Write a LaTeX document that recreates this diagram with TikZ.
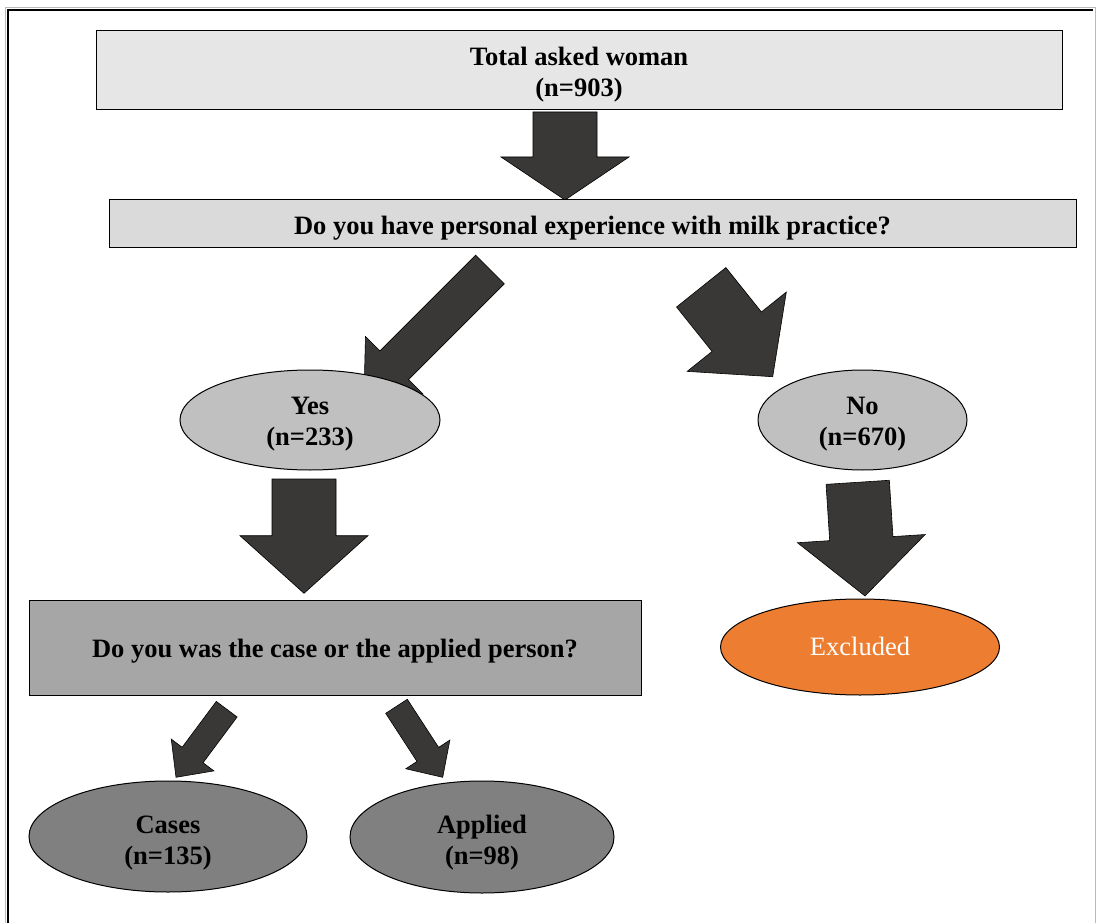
\documentclass[tikz,border=0pt]{standalone}
\usepackage{fontspec}
\setmainfont{Liberation Serif}
\usetikzlibrary{shapes.geometric,calc,backgrounds}
\definecolor{arrowfill}{HTML}{3A3836}
\definecolor{boxone}{HTML}{E6E6E6}
\definecolor{boxtwo}{HTML}{DADADA}
\definecolor{boxthree}{HTML}{A6A6A6}
\definecolor{elllight}{HTML}{C0C0C0}
\definecolor{elldark}{HTML}{808080}
\definecolor{orangefill}{HTML}{ED7D31}
% #1 tail, #2 tip, #3 shaft half-width, #4 head half-width, #5 head length
\newcommand{\blockarr}[5]{%
  \coordinate (H) at ($(#2)!#5!(#1)$);
  \fill[arrowfill, draw=black, line width=0.6pt, line join=miter]
    ($(#1)!#3!90:(#2)$) -- ($(H)!#3!90:(#2)$) -- ($(H)!#4!90:(#2)$) -- (#2)
    -- ($(H)!#4!-90:(#2)$) -- ($(H)!#3!-90:(#2)$) -- ($(#1)!#3!-90:(#2)$) -- cycle;
}
\newcommand{\lbl}[2][-4.5pt]{\raisebox{#1}[\height][\depth]{\begin{tabular}{@{}c@{}}#2\end{tabular}}}
\begin{document}
\begin{tikzpicture}[x=1pt,y=-1pt,
  base/.style={draw=black, line width=1pt, inner sep=0pt, align=center,
    font=\fontsize{26.5}{31}\selectfont\bfseries},
  boxnode/.style={base, rectangle},
  ellnode/.style={base, ellipse}]
\useasboundingbox (0,0) rectangle (1096,923);
% frame
\draw[gray!55, line width=1pt] (5,923) -- (5,7.5) -- (1095,7.5) -- (1095,923);
\draw[black, line width=2.5pt] (8,923) -- (8,10) -- (1093,10);

% nodes
\node[boxnode, fill=boxone, minimum width=966, minimum height=79] (total) at (579,70.5) {\lbl{Total asked woman\\(n=903)}};
\node[boxnode, fill=boxtwo, minimum width=967, minimum height=47] (question) at (592.5,223.5) {\lbl[-5pt]{Do you have personal experience with milk practice?}};
\node[ellnode, fill=elllight, minimum width=260, minimum height=100] (yes) at (310,420) {\lbl[-3.5pt]{Yes\\(n=233)}};
\node[ellnode, fill=elllight, minimum width=209, minimum height=100] (no) at (862.5,420) {\lbl[-3.5pt]{No\\(n=670)}};
\node[boxnode, fill=boxthree, minimum width=612, minimum height=95] (casebox) at (335,647.5) {\lbl[-4pt]{Do you was the case or the applied person?}};
\node[ellnode, fill=orangefill, minimum width=279, minimum height=96, text=white,
  font=\fontsize{26.5}{31}\selectfont] (excluded) at (860,647) {\lbl[-2pt]{Excluded}};
\node[ellnode, fill=elldark, minimum width=278, minimum height=111] (cases) at (168,836.5) {\lbl[-6pt]{Cases\\(n=135)}};
\node[ellnode, fill=elldark, minimum width=264, minimum height=112] (applied) at (482,837) {\lbl[-6pt]{Applied\\(n=98)}};

% arrow end points
\coordinate (a1s) at (565,112);   \coordinate (a1e) at (565,200);
\coordinate (a2s) at (490,269.5); \coordinate (a2e) at (364,395.5);
\coordinate (a3s) at (701.2,287.3); \coordinate (a3e) at (772.7,376.7);
\coordinate (a4s) at (304,479);   \coordinate (a4e) at (304,593.3);
\coordinate (a5s) at (857.7,482.3); \coordinate (a5e) at (865,596);
\coordinate (a6s) at (226.7,709.2); \coordinate (a6e) at (176,777.3);
\coordinate (a7s) at (396.5,706.3); \coordinate (a7e) at (442.7,777.3);

\begin{pgfonlayer}{background}
\blockarr{a1s}{a1e}{32pt}{64pt}{43pt}
\blockarr{a2s}{a2e}{20.25pt}{40.7pt}{42.8pt}
\blockarr{a3s}{a3e}{31.6pt}{63.5pt}{57.6pt}
\blockarr{a4s}{a4e}{32pt}{64pt}{57.6pt}
\blockarr{a5s}{a5e}{31.7pt}{64pt}{57.5pt}
\blockarr{a6s}{a6e}{13pt}{26.6pt}{27.8pt}
\blockarr{a7s}{a7e}{12.9pt}{26.3pt}{27.3pt}
\end{pgfonlayer}
\end{tikzpicture}
\end{document}
